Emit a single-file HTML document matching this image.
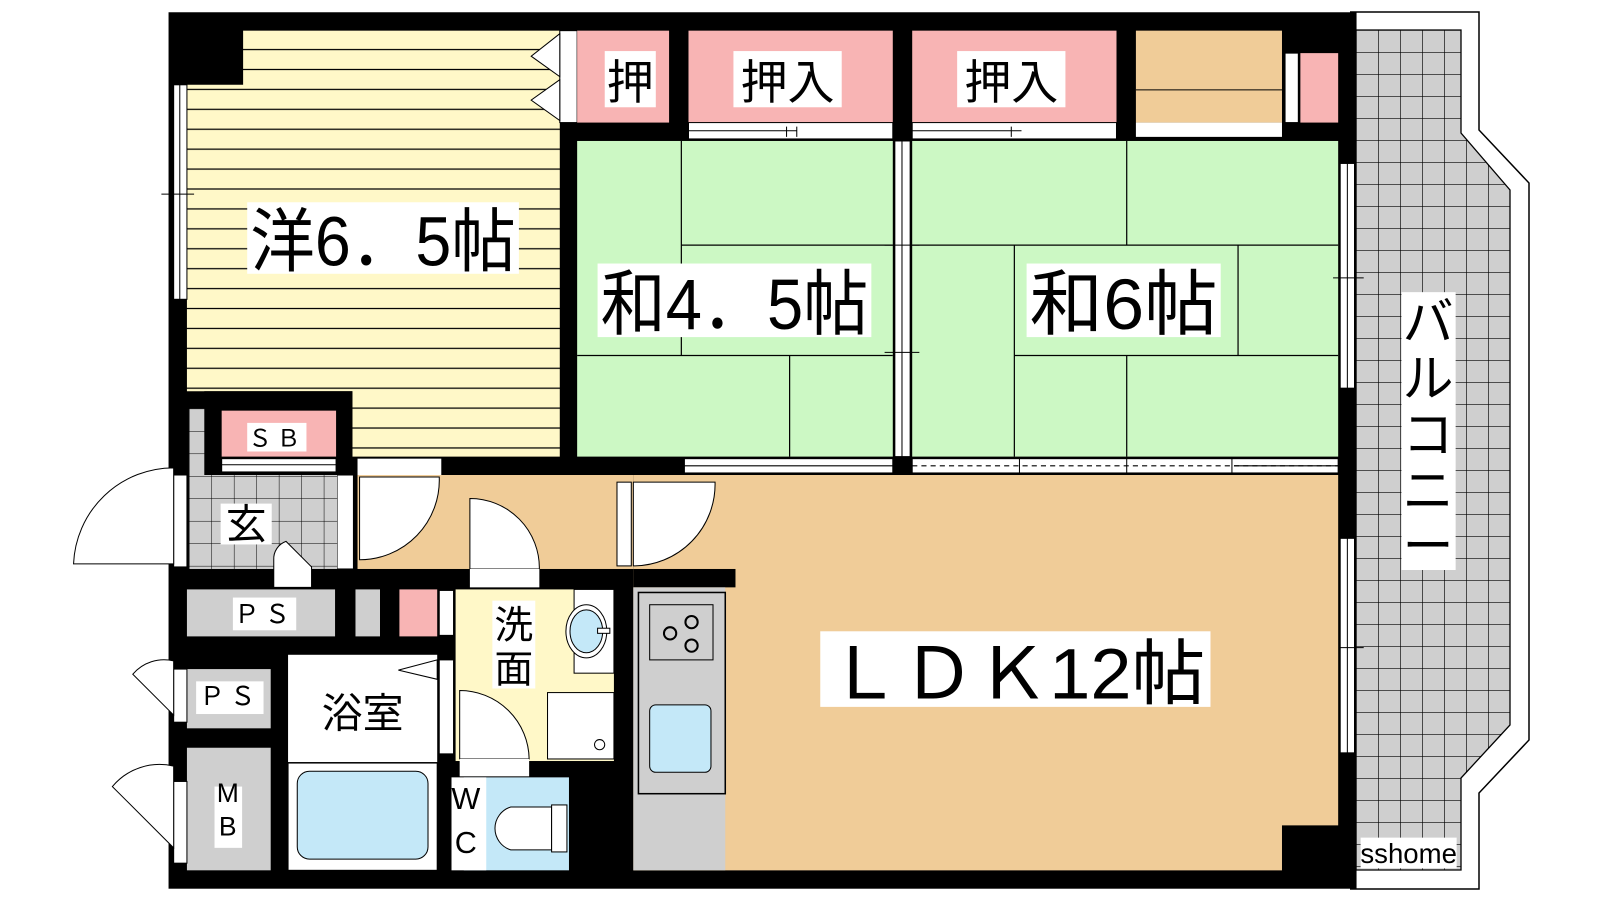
<!DOCTYPE html>
<html><head><meta charset="utf-8"><style>html,body{margin:0;padding:0;background:#fff}svg{display:block}
text{font-family:"Liberation Sans","Noto Sans CJK JP",sans-serif;fill:#000}</style></head><body>
<svg width="1600" height="900" viewBox="0 0 1600 900" xmlns="http://www.w3.org/2000/svg">
<defs>
<pattern id="stripe" width="20" height="19.5" patternUnits="userSpaceOnUse" y="30"><rect width="20" height="19.5" fill="#fff8c8"/><line x1="0" y1="18.5" x2="20" y2="18.5" stroke="#000" stroke-width="1.2"/></pattern>
<pattern id="grid" width="22" height="22" patternUnits="userSpaceOnUse" x="1356" y="30"><rect width="22" height="22" fill="#cfcfcf"/><path d="M0 0H22M0 0V22" stroke="#000" stroke-width="1.3"/></pattern>
<pattern id="grid2" width="22" height="22" patternUnits="userSpaceOnUse" x="185" y="400"><rect width="22" height="22" fill="#cfcfcf"/><path d="M0 0H22M0 0V22" stroke="#000" stroke-width="1"/></pattern>
</defs>
<rect width="1600" height="900" fill="#fff"/>
<!-- balcony (true coords) -->
<path d="M1350 12H1479V130L1529 183V740L1479 793V889H1350" fill="#fff" stroke="#000" stroke-width="1.5"/>
<path d="M1350 30H1461V133L1510 190V725L1461 778V870H1350Z" fill="url(#grid)" stroke="#000" stroke-width="1.3"/>
<g transform="scale(1.0215)">
<!-- main black -->
<rect x="165" y="12" width="1163" height="858" fill="#000"/>
<!-- western room -->
<path d="M238 30H548V447H345V383H183V83H238Z" fill="url(#stripe)"/>
<rect x="170" y="83" width="13" height="210" fill="#fff" stroke="#000"/>
<line x1="176" y1="83" x2="176" y2="293" stroke="#000"/>
<line x1="158" y1="190" x2="190" y2="190" stroke="#000"/>
<rect x="548" y="30" width="17" height="90" fill="#fff" stroke="#000"/>
<path d="M548 33L520 55L548 75Z M548 78L520 98L548 118Z" fill="#fff" stroke="#000"/>
<!-- closets -->
<rect x="565" y="30" width="90" height="90" fill="#f8b4b4"/>
<rect x="674" y="30" width="200" height="90" fill="#f8b4b4"/>
<rect x="893" y="30" width="200" height="90" fill="#f8b4b4"/>
<rect x="1112" y="30" width="143" height="90" fill="#f0cc98"/>
<line x1="1112" y1="88" x2="1255" y2="88" stroke="#000"/>
<rect x="1258" y="52" width="13" height="68" fill="#fff" stroke="#000"/>
<rect x="1273" y="52" width="37" height="68" fill="#f8b4b4"/>
<rect x="1112" y="120" width="143" height="14" fill="#fff"/>
<rect x="674" y="120" width="200" height="16" fill="#fff" stroke="#000"/>
<rect x="893" y="120" width="200" height="16" fill="#fff" stroke="#000"/>
<path d="M674 128H780M770 124V134M780 124V134M893 128H1000M990 124V134" stroke="#000"/>
<!-- tatami -->
<rect x="565" y="138" width="309" height="309" fill="#ccf8c4"/>
<rect x="893" y="138" width="417" height="309" fill="#ccf8c4"/>
<path d="M667 138V348M667 240H874M565 348H874M773 348V447" stroke="#000" stroke-width="1.2"/>
<path d="M1103 138V240M893 240H1310M993 240V447M1212 240V348M993 348H1310M1103 348V447" stroke="#000" stroke-width="1.2"/>
<rect x="876" y="138" width="15" height="309" fill="#fff" stroke="#000"/>
<line x1="883" y1="138" x2="883" y2="447" stroke="#000"/>
<path d="M866 240H900M866 345H900" stroke="#000"/>
<rect x="1312" y="160" width="14" height="220" fill="#fff" stroke="#000"/>
<line x1="1319" y1="160" x2="1319" y2="380" stroke="#000"/>
<line x1="1305" y1="272" x2="1335" y2="272" stroke="#000"/>
<rect x="1312" y="527" width="14" height="210" fill="#fff" stroke="#000"/>
<line x1="1319" y1="527" x2="1319" y2="737" stroke="#000"/>
<line x1="1305" y1="634" x2="1335" y2="634" stroke="#000"/>
<rect x="670" y="449" width="204" height="14" fill="#fff" stroke="#000"/>
<line x1="670" y1="456" x2="874" y2="456" stroke="#000"/>
<rect x="893" y="449" width="417" height="14" fill="#fff" stroke="#000"/>
<line x1="893" y1="456" x2="1310" y2="456" stroke="#000" stroke-dasharray="5,4"/>
<path d="M998 449V463M1103 449V463M1206 449V463M1208 456H1310" stroke="#000"/>
<!-- LDK -->
<path d="M620 465H1310V808H1255V852H620Z" fill="#f0cc98"/>
<rect x="350" y="465" width="270" height="92" fill="#f0cc98"/>
<rect x="350" y="449" width="82" height="16" fill="#fff"/>
<rect x="330" y="465" width="16" height="92" fill="#fff" stroke="#000"/>
<path d="M352 467V548A78 78 0 0 0 430 467Z" fill="#fff" stroke="#000"/>
<path d="M460 488V557H528A68 68 0 0 0 460 488Z" fill="#fff" stroke="#000"/>
<rect x="460" y="557" width="68" height="18" fill="#fff"/>
<rect x="604" y="472" width="14" height="82" fill="#fff" stroke="#000"/>
<path d="M620 472V554A80 80 0 0 0 700 472Z" fill="#fff" stroke="#000"/>
<rect x="620" y="557" width="100" height="18" fill="#000"/>
<!-- kitchen -->
<rect x="620" y="575" width="90" height="277" fill="#cfcfcf"/>
<rect x="625" y="580" width="85" height="197" fill="#cfcfcf" stroke="#000" stroke-width="1.5"/>
<rect x="636" y="592" width="62" height="54" fill="#cfcfcf" stroke="#000"/>
<circle cx="656" cy="620" r="6" fill="none" stroke="#000" stroke-width="2"/><circle cx="677" cy="609" r="6" fill="none" stroke="#000" stroke-width="2"/><circle cx="677" cy="632" r="6" fill="none" stroke="#000" stroke-width="2"/>
<rect x="636" y="690" width="60" height="66" rx="6" fill="#c4e8f8" stroke="#000"/>
<!-- genkan -->
<rect x="185" y="400" width="145" height="157" fill="url(#grid2)"/>
<rect x="200" y="383" width="145" height="82" fill="#000"/>
<rect x="217" y="402" width="112" height="45" fill="#f8b4b4"/>
<rect x="217" y="449" width="112" height="13" fill="#fff" stroke="#000"/>
<line x1="217" y1="455" x2="329" y2="455" stroke="#000"/>
<rect x="242" y="414" width="58" height="28" fill="#fff"/>
<text x="271" y="437" font-size="23" text-anchor="middle" letter-spacing="5">ＳＢ</text>
<rect x="170" y="465" width="13" height="90" fill="#fff" stroke="#000"/>
<path d="M170 458A98 98 0 0 0 72 552H170Z" fill="#fff" stroke="#000"/>
<rect x="216" y="493" width="50" height="40" fill="#fff"/>
<text x="241" y="527" font-size="40" text-anchor="middle">玄</text>
<path d="M268 560V548A18 18 0 0 1 280 530L305 555V575H268Z" fill="#fff" stroke="#000"/>
<!-- PS rows -->
<rect x="183" y="577" width="145" height="46" fill="#cfcfcf"/>
<rect x="228" y="585" width="62" height="32" fill="#fff"/>
<text x="259" y="610" font-size="25" text-anchor="middle" letter-spacing="5">ＰＳ</text>
<rect x="348" y="577" width="24" height="46" fill="#cfcfcf"/>
<rect x="391" y="577" width="37" height="46" fill="#f8b4b4"/>
<rect x="430" y="578" width="14" height="44" fill="#fff" stroke="#000"/>
<rect x="183" y="655" width="82" height="58" fill="#cfcfcf"/>
<rect x="192" y="667" width="66" height="32" fill="#fff"/>
<text x="225" y="690" font-size="25" text-anchor="middle" letter-spacing="5">ＰＳ</text>
<rect x="170" y="655" width="13" height="52" fill="#fff" stroke="#000"/>
<path d="M170 647A40 40 0 0 0 130 660L170 700Z" fill="#fff" stroke="#000"/>
<rect x="183" y="732" width="82" height="120" fill="#cfcfcf"/>
<rect x="210" y="770" width="27" height="60" fill="#fff"/>
<text x="223" y="785" font-size="26" text-anchor="middle">M</text>
<text x="223" y="818" font-size="26" text-anchor="middle">B</text>
<rect x="170" y="765" width="13" height="80" fill="#fff" stroke="#000"/>
<path d="M170 750A60 60 0 0 0 110 770L170 830Z" fill="#fff" stroke="#000"/>
<!-- bath -->
<rect x="282" y="641" width="146" height="105" fill="#fff"/>
<path d="M428 646L390 656L428 665Z" fill="#fff" stroke="#000"/>
<rect x="430" y="646" width="14" height="92" fill="#fff" stroke="#000"/>
<text x="355" y="712" font-size="40" text-anchor="middle">浴室</text>
<rect x="282" y="747" width="146" height="105" fill="#fff" stroke="#000"/>
<rect x="291" y="755" width="128" height="86" rx="12" fill="#c4e8f8" stroke="#000"/>
<!-- senmen -->
<rect x="446" y="577" width="155" height="168" fill="#fff8c8"/>
<rect x="482" y="588" width="42" height="86" fill="#fff"/>
<text x="503" y="625" font-size="38" text-anchor="middle">洗</text>
<text x="503" y="668" font-size="38" text-anchor="middle">面</text>
<rect x="562" y="577" width="39" height="82" fill="#fff" stroke="#000"/>
<ellipse cx="574" cy="618" rx="20" ry="26" fill="#fff" stroke="#000"/>
<ellipse cx="574" cy="618" rx="16" ry="21" fill="#c4e8f8" stroke="#000"/>
<rect x="585" y="615" width="12" height="5" fill="#fff" stroke="#000"/>
<rect x="536" y="678" width="65" height="65" fill="#fff" stroke="#000"/>
<circle cx="587" cy="729" r="5" fill="#fff" stroke="#000"/>
<path d="M450 676V743H518A68 68 0 0 0 450 676Z" fill="#fff" stroke="#000"/>
<rect x="450" y="743" width="68" height="17" fill="#fff"/>
<!-- WC -->
<rect x="454" y="761" width="103" height="91" fill="#c4e8f8"/>
<rect x="442" y="761" width="34" height="91" fill="#fff"/>
<text x="456" y="792" font-size="30" text-anchor="middle">W</text>
<text x="456" y="835" font-size="30" text-anchor="middle">C</text>
<path d="M540 790H500A22 22 0 0 0 500 832H540Z" fill="#fff" stroke="#000"/>
<rect x="540" y="788" width="15" height="46" fill="#fff" stroke="#000"/>
<!-- labels -->
<rect x="242" y="198" width="266" height="70" fill="#fff"/>
<text x="245" y="260" font-size="68" textLength="260" lengthAdjust="spacingAndGlyphs">洋6．5帖</text>
<rect x="585" y="258" width="268" height="72" fill="#fff"/>
<text x="588" y="322" font-size="70" textLength="262" lengthAdjust="spacingAndGlyphs">和4．5帖</text>
<rect x="1005" y="258" width="190" height="72" fill="#fff"/>
<text x="1008" y="322" font-size="70" textLength="184" lengthAdjust="spacingAndGlyphs">和6帖</text>
<rect x="803" y="618" width="382" height="74" fill="#fff"/>
<text x="810" y="684" font-size="70" textLength="370" lengthAdjust="spacingAndGlyphs">ＬＤＫ12帖</text>
<rect x="592" y="50" width="50" height="55" fill="#fff"/>
<text x="617" y="97" font-size="46" text-anchor="middle">押</text>
<rect x="718" y="50" width="106" height="55" fill="#fff"/>
<text x="771" y="97" font-size="46" text-anchor="middle">押入</text>
<rect x="937" y="50" width="106" height="55" fill="#fff"/>
<text x="990" y="97" font-size="46" text-anchor="middle">押入</text>
<rect x="1372" y="286" width="53" height="272" fill="#fff"/>
<g font-size="50" text-anchor="middle"><text x="1398" y="333">バ</text><text x="1398" y="388">ル</text><text x="1398" y="443">コ</text><text x="1398" y="498">ニ</text><text x="1398" y="552">ー</text></g>
<rect x="1332" y="820" width="94" height="30" fill="#fff"/>
<text x="1379" y="845" font-size="27" text-anchor="middle">sshome</text>
</g>
</svg>
</body></html>
